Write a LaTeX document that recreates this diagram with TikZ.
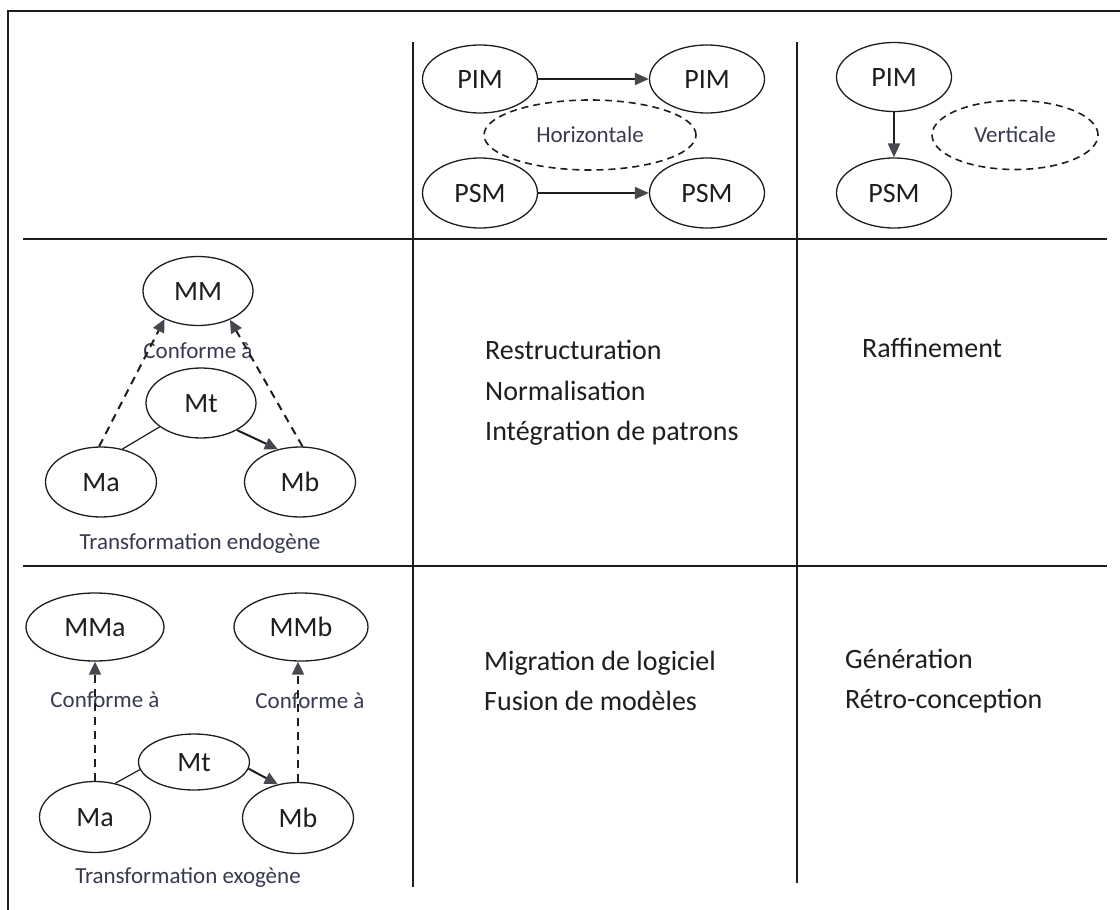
\documentclass[tikz,border=0pt]{standalone}
\usepackage{fontspec}
\setmainfont{Carlito}
\usetikzlibrary{arrows.meta,shapes.geometric}
\definecolor{ink}{HTML}{1E1E1E}
\definecolor{labelink}{HTML}{383A52}
\definecolor{tipgray}{HTML}{4A4650}

\begin{document}
\begin{tikzpicture}[x=1pt,y=-1pt,
  model/.style={ellipse, draw=ink, line width=1.3pt, minimum width=115pt,
    minimum height=68pt, inner sep=0pt, text=ink,
    font=\fontsize{28}{30}\selectfont, text height=18pt, text depth=0pt},
  kind/.style={ellipse, draw=ink, line width=1.6pt,
    dash pattern=on 7pt off 5pt, inner sep=0pt, text=labelink,
    font=\fontsize{23}{25}\selectfont, text height=15pt, text depth=0pt},
  tag/.style={text=labelink, font=\fontsize{23}{25}\selectfont,
    inner sep=0pt, anchor=base},
  item/.style={text=ink, font=\fontsize{28}{30}\selectfont,
    inner sep=0pt, anchor=base west},
  rule/.style={draw=ink, line width=2pt},
  flow/.style={draw=ink, line width=2.2pt,
    -{Triangle[length=14pt,width=12pt,color=tipgray]}},
  conform/.style={draw=ink, line width=2pt, dash pattern=on 8pt off 6pt,
    -{Triangle[length=13pt,width=12pt,color=tipgray]}},
  link/.style={draw=ink, line width=1.2pt},
  apply/.style={draw=ink, line width=2pt,
    -{Triangle[length=13pt,width=12pt,color=tipgray]}}
]
\useasboundingbox (0,0) rectangle (1120,910);
\fill[white] (0,0) rectangle (1120,910);

% outer frame and table rules
\draw[rule, line width=2.4pt] (8,910) -- (8,11) -- (1120,11);
\draw[rule] (23,239) -- (1107,239);
\draw[rule] (23,566) -- (1107,566);
\draw[rule] (413,42) -- (413,887);
\draw[rule] (797,42) -- (797,883);

% horizontal transformations
\node[model] (pimA) at (480,79) {PIM};
\node[model] (pimB) at (707,79) {PIM};
\node[model, minimum height=70pt] (psmA) at (480,193) {PSM};
\node[model, minimum height=70pt] (psmB) at (707,193) {PSM};
\node[kind, minimum width=212pt, minimum height=70pt] (horiz) at (590,135) {Horizontale};
\draw[flow] (pimA) -- (pimB);
\draw[flow] (psmA) -- (psmB);

% vertical transformations
\node[model, minimum height=69pt] (pimC) at (894,77) {PIM};
\node[model, minimum height=70pt] (psmC) at (894,193) {PSM};
\node[kind, minimum width=166pt, minimum height=69pt] (vert) at (1015,135) {Verticale};
\draw[flow] (pimC) -- (psmC);

% endogenous transformation
\node[model, minimum width=110pt, minimum height=69pt] (mm) at (198,291) {MM};
\node[model, minimum width=110pt, minimum height=70pt] (mt1) at (201,403) {Mt};
\node[model, minimum width=111pt, minimum height=70pt] (ma1) at (101,482) {Ma};
\node[model, minimum width=111pt, minimum height=70pt] (mb1) at (300,482) {Mb};
\node[tag] (conf1) at (198,358) {Conforme à};
\node[tag] (endo) at (200,549) {Transformation endogène};
\draw[conform] (ma1.93) -- (mm.-140);
\draw[conform] (mb1.86) -- (mm.-42);
\draw[link] (mt1.-150) -- (ma1.57);
\draw[apply] (mt1.-37) -- (mb1.124);

% exogenous transformation
\node[model, minimum width=138pt, minimum height=68pt] (mma) at (95,627) {MMa};
\node[model, minimum width=134pt, minimum height=68pt] (mmb) at (301,627) {MMb};
\node[model, minimum width=111pt, minimum height=56pt] (mt2) at (194,762) {Mt};
\node[model, minimum width=111pt, minimum height=71pt] (ma2) at (95,817) {Ma};
\node[model, minimum width=111pt, minimum height=71pt] (mb2) at (298,818) {Mb};
\node[tag] (conf2) at (105,707) {Conforme à};
\node[tag] (conf3) at (310,708) {Conforme à};
\node[tag] (exo) at (188,883) {Transformation exogène};
\draw[conform] (ma2.north) -- (ma2.north |- mma.south);
\draw[conform] (mb2.north) -- (mb2.north |- mmb.south);
\draw[link] (mt2.188) -- (ma2.59);
\draw[apply] (mt2.-7) -- (mb2.121);

% kinds of transformation
\node[item] (restr) at (485,359) {Restructuration};
\node[item] (norm) at (485,400) {Normalisation};
\node[item] (integ) at (485,440) {Intégration de patrons};
\node[item] (raff) at (862,357) {Raffinement};
\node[item] (migr) at (484,670) {Migration de logiciel};
\node[item] (fusion) at (484,710) {Fusion de modèles};
\node[item] (gen) at (845,668) {Génération};
\node[item] (retro) at (845,708) {Rétro-conception};
\end{tikzpicture}
\end{document}
